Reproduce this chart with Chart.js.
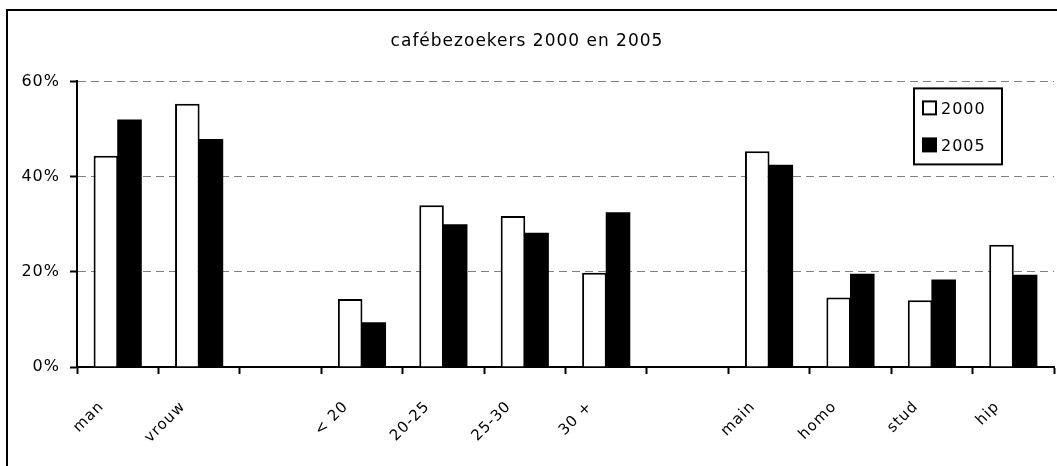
<!DOCTYPE html>
<html>
<head>
<meta charset="utf-8">
<title>cafébezoekers</title>
<script src="https://cdn.jsdelivr.net/npm/chart.js@4/dist/chart.umd.min.js"></script>
<style>
  html, body { margin: 0; padding: 0; background: #fff; }
</style>
</head>
<body>
<canvas id="chart" width="1057" height="466"></canvas>
<script>
// groups are separated by empty categories
const categories = ['man', 'vrouw', '', '< 20', '20-25', '25-30', '30 +', '', 'main', 'homo', 'stud', 'hip'];
const values2000 = [44.4, 55.3, null, 14.3, 34.0, 31.7, 19.8, null, 45.3, 14.6, 14.0, 25.7];
const values2005 = [52.0, 47.9, null, 9.4, 30.0, 28.2, 32.5, null, 42.5, 19.6, 18.4, 19.4];
const yTicks = [0, 20, 40, 60];

const FONT = 'DejaVu Sans';
const SPACING = '1px';

// wide lettering for all canvas text
const spacing = {
  id: 'spacing',
  beforeLayout(chart) { chart.ctx.letterSpacing = SPACING; },
  beforeDraw(chart) { chart.ctx.letterSpacing = SPACING; }
};

// frame around the whole chart
const frame = {
  id: 'frame',
  beforeDraw(chart) {
    const ctx = chart.ctx;
    ctx.save();
    ctx.strokeStyle = '#000';
    ctx.lineWidth = 2;
    ctx.strokeRect(7, 10, chart.width + 20, chart.height + 20);
    ctx.restore();
  }
};

// boxed legend inside the plot area, top right
const boxLegend = {
  id: 'boxLegend',
  afterDraw(chart) {
    const ctx = chart.ctx;
    const area = chart.chartArea;
    const x = area.right - 140, y = area.top + 7;
    const w = 88, h = 76;
    ctx.save();
    ctx.fillStyle = '#fff';
    ctx.fillRect(x, y, w, h);
    ctx.strokeStyle = '#000';
    ctx.lineWidth = 2;
    ctx.strokeRect(x, y, w, h);
    ctx.font = '16px "' + FONT + '"';
    ctx.textBaseline = 'middle';
    ctx.letterSpacing = SPACING;
    chart.data.datasets.forEach((ds, i) => {
      const cy = y + 20 + i * 37;
      ctx.fillStyle = ds.backgroundColor;
      ctx.fillRect(x + 9, cy - 7, 13, 13);
      ctx.lineWidth = 2;
      ctx.strokeStyle = '#000';
      ctx.strokeRect(x + 9, cy - 7, 13, 13);
      ctx.fillStyle = '#000';
      ctx.fillText(ds.label, x + 27, cy + 1);
    });
    ctx.restore();
  }
};

new Chart(document.getElementById('chart'), {
  type: 'bar',
  data: {
    labels: categories,
    datasets: [
      { label: '2000', data: values2000, backgroundColor: '#fff', borderColor: '#000', borderWidth: 2 },
      { label: '2005', data: values2005, backgroundColor: '#000', borderColor: '#000', borderWidth: 0 }
    ]
  },
  options: {
    responsive: false,
    animation: false,
    devicePixelRatio: 1,
    layout: { padding: { left: 0, right: 3, top: 0, bottom: 0 } },
    datasets: { bar: { categoryPercentage: 0.58, barPercentage: 1.04 } },
    plugins: {
      legend: { display: false },
      tooltip: { enabled: false },
      title: {
        display: true,
        text: 'cafébezoekers 2000 en 2005',
        color: '#000',
        font: { family: FONT, size: 17, weight: 'normal' },
        padding: { top: 31, bottom: 30 }
      }
    },
    scales: {
      x: {
        grid: { offset: true, drawOnChartArea: false, tickLength: 7, tickColor: '#000', tickWidth: 2 },
        border: { color: '#000', width: 2 },
        ticks: {
          color: '#000', font: { family: FONT, size: 15 },
          minRotation: 45, maxRotation: 45, autoSkip: false, padding: 24, labelOffset: -16
        },
        afterFit(scale) { scale.height = 99; }
      },
      y: {
        min: 0, max: 60,
        afterBuildTicks(scale) { scale.ticks = yTicks.map(v => ({ value: v })); },
        grid: {
          color: ctx => ctx.tick && ctx.tick.value === 0 ? 'rgba(0,0,0,0)' : '#808080',
          lineWidth: 1, tickLength: 7, tickColor: '#000', tickWidth: 2
        },
        border: { color: '#000', width: 2, dash: [8, 5] },
        ticks: {
          color: '#000', font: { family: FONT, size: 16 }, padding: 10,
          callback: v => v + '%'
        },
        afterFit(scale) { scale.width = 77; }
      }
    }
  },
  plugins: [spacing, frame, boxLegend]
});
</script>
</body>
</html>
